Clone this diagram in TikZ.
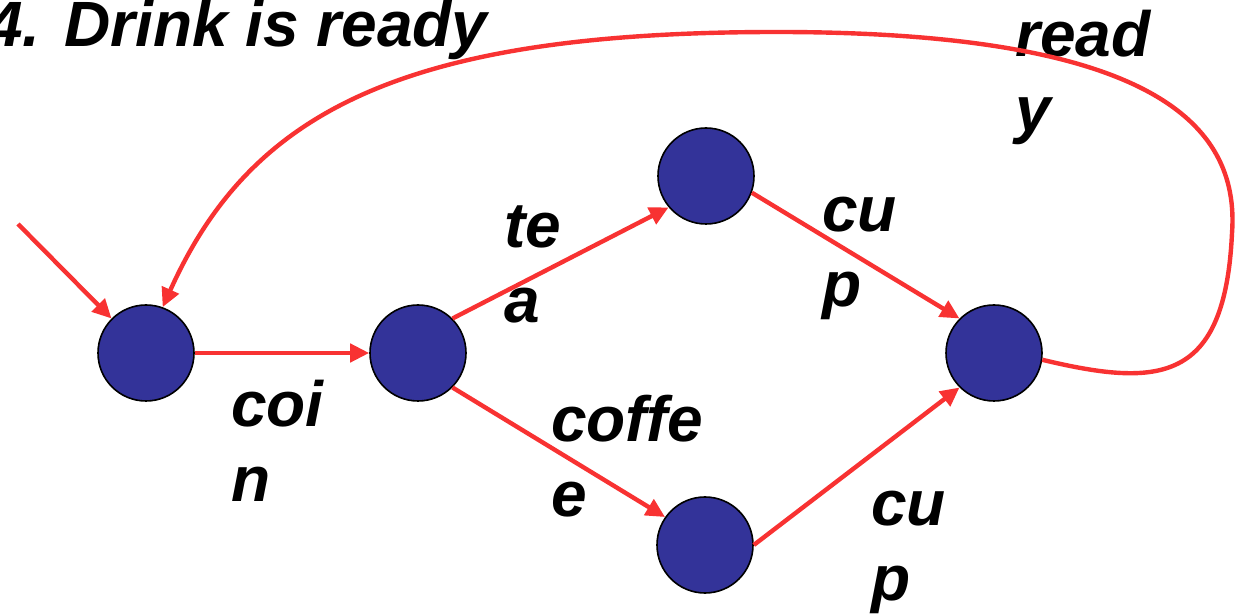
\documentclass[tikz,border=0pt]{standalone}
\usepackage{fontspec}
\setmainfont{Liberation Sans}
\usepackage{tikz}
\usetikzlibrary{arrows.meta}
\definecolor{stateblue}{HTML}{333399}
\definecolor{arrowred}{HTML}{F83232}

\begin{document}
\begin{tikzpicture}[x=1pt,y=1pt,
    state/.style={circle,draw=black,line width=1.6pt,fill=stateblue,minimum size=96pt,inner sep=0pt},
    trans/.style={draw=arrowred,line width=4.4pt,-{Triangle[length=19pt,width=18pt]}},
    lbl/.style={anchor=base west,align=left,inner sep=0pt,font=\fontsize{64}{75}\selectfont\bfseries\itshape}]
  \useasboundingbox (0,0) rectangle (1236,613);
  % states
  \node[state] (s0)  at (146,260) {};
  \node[state] (s1)  at (418,260) {};
  \node[state] (tea) at (706,437) {};
  \node[state] (cof) at (705,68)  {};
  \node[state] (cup) at (994,260) {};
  \coordinate (init) at (18,389);
  % labels (anchored at the baseline of the last line)
  \node[lbl] (title) at (-13,566) {4. Drink is ready};
  \node[lbl] (lcoin)  at (231,111) {coi\\n};
  \node[lbl] (ltea)   at (504,290) {te\\a};
  \node[lbl] (lcof)   at (551,96)  {coffe\\e};
  \node[lbl] (lcup1)  at (822,306) {cu\\p};
  \node[lbl] (lcup2)  at (871,13)  {cu\\p};
  \node[lbl] (lready) at (1015,481) {read\\y};
  % transitions
  \draw[trans] (init) -- (s0.135);
  \draw[trans] (s0) -- (s1);
  \draw[trans] (s1.45) -- (tea.220);
  \draw[trans] (s1.-45) -- (cof.145);
  \draw[trans] (tea.-20) -- (cup.135);
  \draw[trans] (cof.east) -- (cup.225);
  \draw[trans] (cup.-8) .. controls (1160,225) and (1225,230) .. (1232,380)
    .. controls (1240,490) and (1150,581) .. (777,581)
    .. controls (400,581) and (250,500) .. (s0.70);
\end{tikzpicture}
\end{document}
